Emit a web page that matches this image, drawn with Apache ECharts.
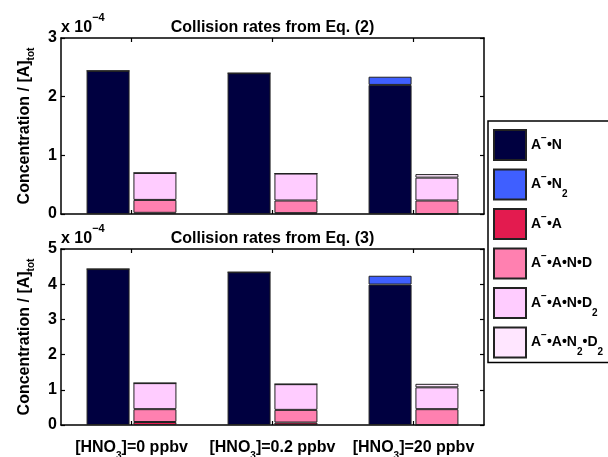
<!DOCTYPE html>
<html>
<head>
<meta charset="utf-8">
<script src="https://cdn.jsdelivr.net/npm/echarts@6/dist/echarts.min.js"></script>
<style>html,body{margin:0;padding:0;background:#fff;}#chart{width:608px;height:457px;}</style>
</head>
<body>
<div id="chart"></div>
<script>
// HNO3 levels (category axis)
const hno3Levels = ['0', '0.2', '20'];
// species keys and legend labels (rich text)
const speciesKeys = ['N', 'N2', 'A', 'AND', 'AND2', 'AN2D2'];
const speciesLabels = [
  'A{sup|−}•N',
  'A{sup|−}•N{sub|2}',
  'A{sup|−}•A',
  'A{sup|−}•A•N•D',
  'A{sup|−}•A•N•D{sub|2}',
  'A{sup|−}•A•N{sub|2}•D{sub|2}'
];
const speciesColors = ['#000040', '#3f5fff', '#e31b4f', '#ff80b0', '#ffccff', '#ffe6ff'];
const stackOf = ['ions', 'ions', 'clusters', 'clusters', 'clusters', 'clusters'];

// Values in units of 1e-4 (Concentration / [A]_tot)
// Panel 1: collision rates from Eq. (2)
const eq2_N     = [2.44, 2.40, 2.20];
const eq2_N2    = [0, 0, 0.14];
const eq2_A     = [0.02, 0.015, 0];
const eq2_AND   = [0.22, 0.215, 0.23];
const eq2_AND2  = [0.46, 0.46, 0.39];
const eq2_AN2D2 = [0, 0, 0.06];
// Panel 2: collision rates from Eq. (3)
const eq3_N     = [4.43, 4.34, 3.99];
const eq3_N2    = [0, 0, 0.25];
const eq3_A     = [0.085, 0.07, 0];
const eq3_AND   = [0.365, 0.36, 0.45];
const eq3_AND2  = [0.74, 0.73, 0.62];
const eq3_AN2D2 = [0, 0, 0.10];

const panelTitles = ['Collision rates from Eq. (2)', 'Collision rates from Eq. (3)'];
const panelMax = [3, 5];
const panelData = [
  [eq2_N, eq2_N2, eq2_A, eq2_AND, eq2_AND2, eq2_AN2D2],
  [eq3_N, eq3_N2, eq3_A, eq3_AND, eq3_AND2, eq3_AN2D2]
];

const FONT = "'Liberation Sans', Arial, Helvetica, sans-serif";
const gridTops = [38, 249];
const GRID_LEFT = 61, GRID_W = 423, GRID_H = 176;

const grids = [], xAxes = [], yAxes = [], series = [], graphics = [];
gridTops.forEach((top, p) => {
  grids.push({left: GRID_LEFT, top: top, width: GRID_W, height: GRID_H, containLabel: false, outerBoundsMode: 'none'});
  const lineStyle = {color: '#000', width: 1.5};
  // bottom x axis
  xAxes.push({
    type: 'category', gridIndex: p, data: hno3Levels, position: 'bottom',
    axisLine: {show: true, onZero: false, lineStyle},
    axisTick: {show: true, inside: true, alignWithLabel: true, length: 4, lineStyle: {color: '#000', width: 1.2}},
    axisLabel: p === 1 ? {
      show: true, interval: 0, hideOverlap: false, margin: 9, color: '#000', fontFamily: FONT, fontWeight: 'bold', fontSize: 16, lineHeight: 27,
      formatter: v => '[HNO{sub|3}]=' + v + ' ppbv',
      rich: {sub: {fontSize: 10, fontWeight: 'bold', fontFamily: FONT, lineHeight: 10, verticalAlign: 'bottom', color: '#000'}}
    } : {show: false},
    splitLine: {show: false}
  });
  // top x axis (box)
  xAxes.push({
    type: 'category', gridIndex: p, data: hno3Levels, position: 'top',
    axisLine: {show: true, onZero: false, lineStyle},
    axisTick: {show: true, inside: true, alignWithLabel: true, length: 4, lineStyle: {color: '#000', width: 1.2}},
    axisLabel: {show: false}, splitLine: {show: false}
  });
  yAxes.push({
    type: 'value', gridIndex: p, min: 0, max: panelMax[p], interval: 1, position: 'left',
    axisLine: {show: true, onZero: false, lineStyle},
    axisTick: {show: true, inside: true, length: 4, lineStyle: {color: '#000', width: 1.2}},
    axisLabel: {show: true, margin: 4, color: '#000', fontFamily: FONT, fontWeight: 'bold', fontSize: 16},
    splitLine: {show: false},
    name: 'Concentration / [A]{sub|tot}', nameLocation: 'middle', nameRotate: 90, nameGap: 25,
    nameTextStyle: {
      color: '#000', fontFamily: FONT, fontWeight: 'bold', fontSize: 16, lineHeight: 22,
      rich: {sub: {fontSize: 10, fontWeight: 'bold', fontFamily: FONT, lineHeight: 9, verticalAlign: 'bottom', color: '#000'}}
    }
  });
  yAxes.push({
    type: 'value', gridIndex: p, min: 0, max: panelMax[p], interval: 1, position: 'right',
    axisLine: {show: true, onZero: false, lineStyle},
    axisTick: {show: true, inside: true, length: 4, lineStyle: {color: '#000', width: 1.2}},
    axisLabel: {show: false}, splitLine: {show: false}
  });
  speciesKeys.forEach((key, i) => {
    series.push({
      name: key, type: 'bar', xAxisIndex: p * 2, yAxisIndex: p * 2,
      stack: stackOf[i] + p, data: panelData[p][i],
      barWidth: 43, barGap: '9%',
      itemStyle: {color: speciesColors[i], borderColor: '#222', borderWidth: 1},
      emphasis: {disabled: true}, animation: false
    });
  });
  const cy = top - 10.5;
  graphics.push({
    type: 'text', x: GRID_LEFT + GRID_W / 2, y: cy,
    style: {text: panelTitles[p], fill: '#000', font: 'bold 16px ' + FONT, textAlign: 'center', textVerticalAlign: 'middle'}
  });
  graphics.push({
    type: 'text', x: GRID_LEFT, y: cy,
    style: {
      text: 'x 10{sup|−4}', fill: '#000', font: 'bold 16px ' + FONT, lineHeight: 31,
      textAlign: 'left', textVerticalAlign: 'middle',
      rich: {sup: {fontSize: 11, fontWeight: 'bold', fontFamily: FONT, lineHeight: 10, verticalAlign: 'top', fill: '#000'}}
    }
  });
});

const chart = echarts.init(document.getElementById('chart'), null, {renderer: 'canvas'});
chart.setOption({
  animation: false,
  backgroundColor: '#fff',
  grid: grids, xAxis: xAxes, yAxis: yAxes, series: series,
  graphic: graphics,
  legend: {
    data: speciesKeys.map(k => ({name: k, icon: 'rect'})), orient: 'vertical', left: 488, top: 121,
    padding: [8, 60, 4, 5], itemWidth: 32, itemHeight: 30, itemGap: 7.5,
    borderColor: '#000', borderWidth: 1.5, backgroundColor: '#fff',
    selectedMode: false,
    formatter: name => speciesLabels[speciesKeys.indexOf(name)],
    textStyle: {
      color: '#000', fontFamily: FONT, fontWeight: 'bold', fontSize: 14, lineHeight: 30,
      rich: {
        sup: {fontSize: 10, fontWeight: 'bold', fontFamily: FONT, lineHeight: 12, padding: [3, 0, 0, 0], verticalAlign: 'top', color: '#000'},
        sub: {fontSize: 10, fontWeight: 'bold', fontFamily: FONT, lineHeight: 10, verticalAlign: 'bottom', color: '#000'}
      }
    }
  }
});
</script>
</body>
</html>
